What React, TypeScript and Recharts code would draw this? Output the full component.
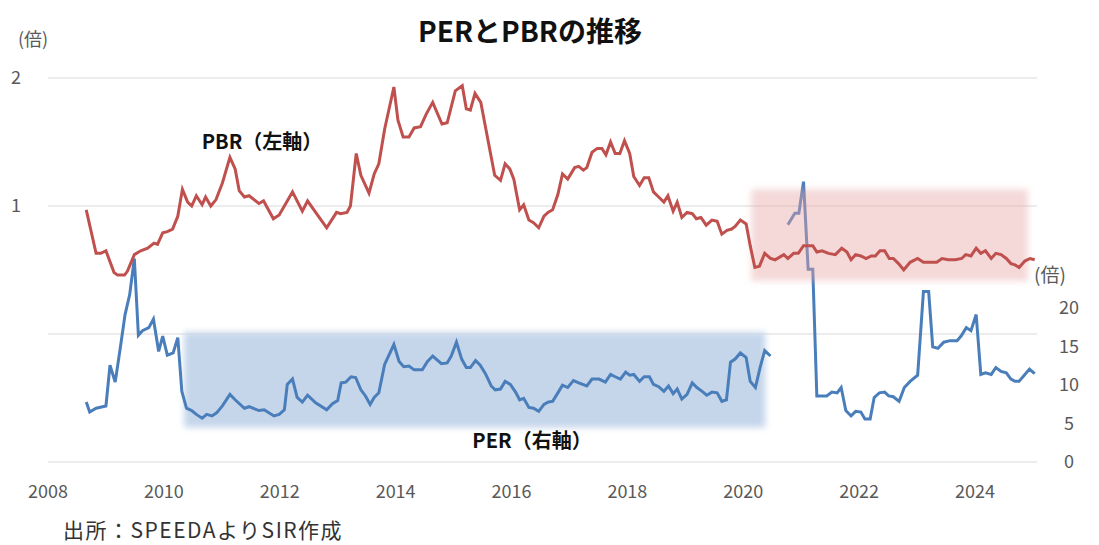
import React from "react";
import {
  LineChart,
  Line,
  XAxis,
  YAxis,
  CartesianGrid,
  ReferenceArea,
} from "recharts";

const FONT = "'Noto Sans CJK JP', 'Noto Sans', sans-serif";

const pbrYears = [
  2008.66, 2008.83, 2008.91, 2009.0, 2009.14, 2009.2, 2009.32, 2009.37, 2009.49, 2009.6,
  2009.72, 2009.83, 2009.89, 2009.98, 2010.06, 2010.15, 2010.24, 2010.32, 2010.41, 2010.48,
  2010.56, 2010.66, 2010.72, 2010.81, 2010.9, 2011.01, 2011.14, 2011.23, 2011.3, 2011.39,
  2011.47, 2011.64, 2011.72, 2011.89, 2011.99, 2012.22, 2012.39, 2012.48, 2012.62, 2012.81,
  2012.98, 2013.05, 2013.16, 2013.22, 2013.32, 2013.4, 2013.54, 2013.63, 2013.71, 2013.81,
  2013.97, 2014.04, 2014.13, 2014.23, 2014.32, 2014.43, 2014.53, 2014.64, 2014.8, 2014.89,
  2015.03, 2015.15, 2015.22, 2015.29, 2015.37, 2015.47, 2015.6, 2015.71, 2015.81, 2015.89,
  2015.97, 2016.04, 2016.14, 2016.21, 2016.3, 2016.38, 2016.47, 2016.56, 2016.63, 2016.71,
  2016.8, 2016.88, 2016.97, 2017.09, 2017.16, 2017.24, 2017.3, 2017.39, 2017.48, 2017.56,
  2017.63, 2017.71, 2017.79, 2017.87, 2017.95, 2018.04, 2018.11, 2018.21, 2018.29, 2018.37,
  2018.45, 2018.54, 2018.63, 2018.7, 2018.79, 2018.86, 2018.94, 2019.03, 2019.12, 2019.19,
  2019.27, 2019.36, 2019.46, 2019.55, 2019.63, 2019.72, 2019.8, 2019.86, 2019.95, 2020.05,
  2020.12, 2020.2, 2020.28, 2020.37, 2020.47, 2020.55, 2020.7, 2020.77, 2020.87, 2020.95,
  2021.04, 2021.12, 2021.2, 2021.27, 2021.36, 2021.47, 2021.59, 2021.7, 2021.79, 2021.86,
  2021.94, 2022.03, 2022.12, 2022.21, 2022.28, 2022.36, 2022.44, 2022.52, 2022.59, 2022.68,
  2022.77, 2022.88, 2023.01, 2023.11, 2023.23, 2023.34, 2023.43, 2023.54, 2023.66, 2023.77,
  2023.84, 2023.93, 2024.02, 2024.1, 2024.18, 2024.28, 2024.36, 2024.45, 2024.54, 2024.62,
  2024.69, 2024.76, 2024.86, 2024.95, 2025.03,
];

const pbrValues = [
  0.97, 0.63, 0.63, 0.65, 0.48, 0.46, 0.46, 0.49, 0.62, 0.65,
  0.67, 0.71, 0.7, 0.79, 0.8, 0.82, 0.92, 1.13, 1.03, 1.0,
  1.08, 1.01, 1.07, 1.0, 1.05, 1.18, 1.38, 1.29, 1.12, 1.07,
  1.08, 1.02, 1.04, 0.9, 0.93, 1.11, 0.96, 1.04, 0.95, 0.83,
  0.95, 0.94, 0.95, 1.0, 1.41, 1.24, 1.1, 1.25, 1.33, 1.6,
  1.93, 1.67, 1.54, 1.54, 1.61, 1.62, 1.72, 1.81, 1.64, 1.65,
  1.9, 1.94, 1.76, 1.75, 1.88, 1.81, 1.5, 1.24, 1.2, 1.33,
  1.29, 1.21, 0.97, 1.01, 0.89, 0.87, 0.83, 0.92, 0.95, 0.97,
  1.09, 1.25, 1.21, 1.3, 1.31, 1.28, 1.3, 1.42, 1.45, 1.45,
  1.4, 1.5, 1.41, 1.41, 1.51, 1.41, 1.23, 1.16, 1.22, 1.22,
  1.11, 1.07, 1.03, 1.08, 0.96, 1.03, 0.91, 0.95, 0.94, 0.9,
  0.91, 0.85, 0.89, 0.88, 0.78, 0.81, 0.82, 0.84, 0.89, 0.86,
  0.69, 0.52, 0.53, 0.63, 0.59, 0.58, 0.62, 0.59, 0.63, 0.63,
  0.69, 0.69, 0.69, 0.64, 0.65, 0.63, 0.62, 0.67, 0.64, 0.58,
  0.62, 0.61, 0.59, 0.61, 0.61, 0.65, 0.65, 0.59, 0.59, 0.55,
  0.5, 0.56, 0.59, 0.56, 0.56, 0.56, 0.59, 0.58, 0.58, 0.59,
  0.62, 0.61, 0.67, 0.63, 0.65, 0.59, 0.63, 0.62, 0.59, 0.55,
  0.54, 0.52, 0.57, 0.59, 0.58,
];

const perYears = [
  2008.66, 2008.72, 2008.83, 2009.0, 2009.07, 2009.16, 2009.26, 2009.33, 2009.41, 2009.49,
  2009.56, 2009.63, 2009.74, 2009.82, 2009.91, 2009.98, 2010.06, 2010.16, 2010.24, 2010.31,
  2010.39, 2010.48, 2010.56, 2010.66, 2010.74, 2010.83, 2010.91, 2011.01, 2011.14, 2011.23,
  2011.39, 2011.47, 2011.64, 2011.73, 2011.9, 2011.99, 2012.08, 2012.13, 2012.22, 2012.3,
  2012.39, 2012.48, 2012.62, 2012.81, 2012.91, 2013.0, 2013.06, 2013.14, 2013.23, 2013.31,
  2013.4, 2013.48, 2013.56, 2013.63, 2013.71, 2013.81, 2013.97, 2014.06, 2014.14, 2014.23,
  2014.32, 2014.46, 2014.55, 2014.64, 2014.79, 2014.89, 2014.96, 2015.05, 2015.14, 2015.22,
  2015.29, 2015.38, 2015.46, 2015.55, 2015.65, 2015.72, 2015.81, 2015.89, 2015.98, 2016.07,
  2016.14, 2016.21, 2016.3, 2016.38, 2016.47, 2016.56, 2016.63, 2016.71, 2016.8, 2016.88,
  2016.97, 2017.07, 2017.16, 2017.3, 2017.39, 2017.51, 2017.62, 2017.71, 2017.79, 2017.88,
  2017.97, 2018.04, 2018.11, 2018.21, 2018.29, 2018.38, 2018.45, 2018.54, 2018.63, 2018.71,
  2018.79, 2018.86, 2018.94, 2019.03, 2019.12, 2019.2, 2019.29, 2019.37, 2019.46, 2019.55,
  2019.63, 2019.71, 2019.78, 2019.86, 2019.95, 2020.05, 2020.12, 2020.21, 2020.29, 2020.37,
  2020.47, 2020.6, 2020.77, 2020.89, 2020.96, 2021.04, 2021.12, 2021.2, 2021.27, 2021.35,
  2021.44, 2021.53, 2021.62, 2021.69, 2021.77, 2021.86, 2021.94, 2022.03, 2022.1, 2022.19,
  2022.26, 2022.35, 2022.44, 2022.51, 2022.59, 2022.69, 2022.78, 2022.88, 2023.01, 2023.11,
  2023.2, 2023.27, 2023.36, 2023.46, 2023.57, 2023.69, 2023.76, 2023.85, 2023.93, 2024.02,
  2024.1, 2024.18, 2024.28, 2024.36, 2024.45, 2024.54, 2024.62, 2024.69, 2024.76, 2024.85,
  2024.94, 2025.03,
];

// null = no data (gap in the series)
const perValues: (number | null)[] = [
  7.8, 6.5, 7.0, 7.3, 12.6, 10.4, 15.5, 19.2, 21.8, 26.5,
  16.5, 17.1, 17.5, 18.6, 14.4, 16.4, 13.9, 14.2, 16.2, 9.2,
  7.0, 6.7, 6.2, 5.7, 6.2, 6.0, 6.4, 7.3, 8.8, 8.1,
  7.0, 7.2, 6.7, 6.8, 6.0, 6.2, 6.8, 10.1, 10.8, 8.4,
  7.8, 8.7, 7.7, 6.8, 7.6, 8.0, 10.3, 10.4, 11.1, 11.0,
  9.4, 8.6, 7.5, 8.4, 9.0, 12.7, 15.3, 13.1, 12.4, 12.5,
  12.0, 12.0, 13.1, 13.8, 12.8, 12.9, 13.8, 15.6, 13.4, 12.3,
  12.3, 13.2, 12.6, 11.5, 9.9, 9.4, 9.5, 10.5, 10.1, 9.1,
  8.1, 8.3, 7.1, 7.0, 6.6, 7.5, 7.8, 7.9, 9.0, 10.0,
  9.7, 10.6, 10.3, 9.9, 10.8, 10.8, 10.4, 11.4, 11.1, 10.8,
  11.7, 11.3, 11.4, 10.5, 11.1, 11.1, 10.1, 9.8, 9.2, 9.9,
  8.9, 9.5, 8.2, 8.8, 10.3, 9.7, 9.2, 8.7, 9.1, 9.0,
  7.9, 8.1, 13.0, 13.4, 14.2, 13.6, 10.5, 9.7, 12.3, 14.5,
  13.8, null, 30.9, 32.4, 32.4, 36.5, 25.1, 25.1, 8.6, 8.6,
  8.6, 9.1, 9.0, 9.7, 6.7, 6.0, 6.6, 6.5, 5.6, 5.6,
  8.4, 9.0, 9.1, 8.6, 8.5, 7.9, 9.7, 10.5, 11.3, 22.2,
  22.2, 15.0, 14.8, 15.6, 15.8, 15.8, 16.4, 17.5, 17.1, 19.2,
  11.4, 11.6, 11.4, 12.3, 11.8, 11.6, 10.8, 10.5, 10.5, 11.3,
  12.1, 11.5,
];

const yearTicks = [2008, 2010, 2012, 2014, 2016, 2018, 2020, 2022, 2024];
const pbrTicks = [-1, 0, 1, 2];
const perTicks = [0, 5, 10, 15, 20];

const pbrData = pbrYears.map((x, i) => ({ x, pbr: pbrValues[i] }));
const perData = perYears.map((x, i) => ({ x, per: perValues[i] }));

const GRAY = "#595959";

const LeftTick = ({ y, payload }: any) =>
  payload.value > 0 ? (
    <text x={16} y={y} dy={6} textAnchor="middle" fill={GRAY} fontSize={18} fontFamily={FONT}>
      {payload.value}
    </text>
  ) : (
    <g />
  );

const RightTick = ({ y, payload }: any) => (
  <text x={1069} y={y} dy={6} textAnchor="middle" fill={GRAY} fontSize={18} fontFamily={FONT}>
    {payload.value}
  </text>
);

const BottomTick = ({ x, payload }: any) => (
  <text x={x} y={492} dy={6} textAnchor="middle" fill={GRAY} fontSize={18} fontFamily={FONT}>
    {payload.value}
  </text>
);

const softRect = (id: string, color: string, opacity: number) => (props: any) => (
  <g>
    <defs>
      <filter id={id} x="-10%" y="-20%" width="120%" height="140%">
        <feGaussianBlur stdDeviation="3" />
      </filter>
    </defs>
    <rect
      x={props.x}
      y={props.y}
      width={props.width}
      height={props.height}
      fill={color}
      fillOpacity={opacity}
      filter={`url(#${id})`}
    />
  </g>
);

const label = (
  text: string,
  x: number,
  y: number,
  size: number,
  extra: React.CSSProperties = {}
) => (
  <div
    style={{
      position: "absolute",
      left: x,
      top: y,
      transform: "translate(-50%, -50%)",
      fontFamily: FONT,
      fontSize: size,
      lineHeight: 1,
      whiteSpace: "nowrap",
      ...extra,
    }}
  >
    {text}
  </div>
);

export default function App() {
  return (
    <div
      style={{
        position: "absolute",
        left: 0,
        top: 0,
        width: 1099,
        height: 545,
        background: "#fff",
      }}
    >
      <LineChart
        width={1099}
        height={545}
        margin={{ top: 78, right: 0, bottom: 43, left: 0 }}
      >
        <CartesianGrid yAxisId="left" vertical={false} stroke="#d9d9d9" strokeWidth={1} />
        <XAxis
          dataKey="x"
          type="number"
          domain={[2008, 2025.07]}
          ticks={yearTicks}
          allowDataOverflow
          axisLine={false}
          tickLine={false}
          height={40}
          tick={<BottomTick />}
        />
        <YAxis
          yAxisId="left"
          type="number"
          domain={[-1, 2]}
          ticks={pbrTicks}
          axisLine={false}
          tickLine={false}
          width={48}
          tick={<LeftTick />}
        />
        <YAxis
          yAxisId="right"
          orientation="right"
          type="number"
          domain={[0, 50]}
          ticks={perTicks}
          axisLine={false}
          tickLine={false}
          width={62}
          tick={<RightTick />}
        />
        <ReferenceArea
          yAxisId="right"
          x1={2010.35}
          x2={2020.38}
          y1={4.5}
          y2={16.9}
          shape={softRect("blurBlue", "#c5d6eb", 1)}
          zIndex={300}
        />
        <Line
          yAxisId="right"
          data={perData}
          dataKey="per"
          stroke="#4a7ebb"
          strokeWidth={3}
          dot={false}
          isAnimationActive={false}
          zIndex={400}
        />
        <ReferenceArea
          yAxisId="left"
          x1={2020.14}
          x2={2024.91}
          y1={0.415}
          y2={1.13}
          shape={softRect("blurPink", "#e6a3a3", 0.42)}
          zIndex={450}
        />
        <Line
          yAxisId="left"
          data={pbrData}
          dataKey="pbr"
          stroke="#c0504d"
          strokeWidth={3}
          dot={false}
          isAnimationActive={false}
          zIndex={500}
        />
      </LineChart>
      {label("PERとPBRの推移", 530, 30, 28, { fontWeight: 700, color: "#111" })}
      {label("(倍)", 33, 38, 18, { color: GRAY })}
      {label("(倍)", 1050, 273, 19, { color: GRAY })}
      {label("PBR（左軸）", 262, 141, 20, { fontWeight: 700, color: "#111" })}
      {label("PER（右軸）", 532, 440, 20, { fontWeight: 700, color: "#111" })}
      <div
        style={{
          position: "absolute",
          left: 63,
          top: 529,
          transform: "translateY(-50%)",
          fontFamily: FONT,
          fontSize: 21,
          letterSpacing: 1.5,
          lineHeight: 1,
          color: "#333",
          whiteSpace: "nowrap",
        }}
      >
        出所：SPEEDAよりSIR作成
      </div>
    </div>
  );
}
